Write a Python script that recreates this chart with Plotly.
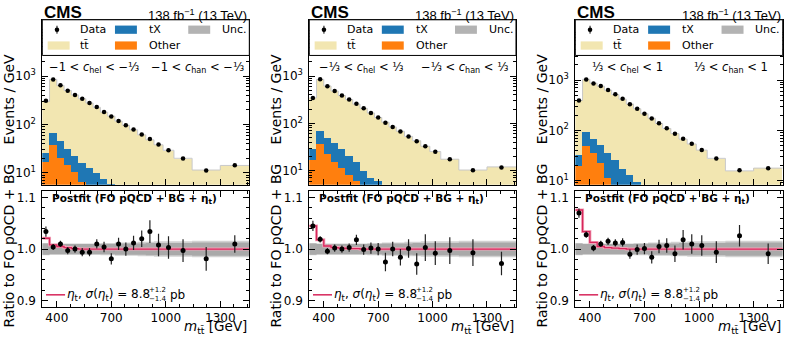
import numpy as np
import plotly.graph_objs as go
from plotly import subplots

# m_tt bin edges [GeV], same for all three (c_hel, c_han) regions
bin_edges = [320, 360, 400, 440, 480, 520, 560, 600, 640, 680, 720, 760, 800, 845, 890, 935, 985, 1045, 1145, 1300, 1460]

# region 1: -1 < c_hel < -1/3, -1 < c_han < -1/3   (events / GeV)
data_1 = [309, 855, 646, 501, 409, 339, 277, 229, 181, 146, 119, 97, 79, 62.5, 50, 38.5, 29.5, 20, 11.3, 14.4]
tt_1 = [274, 790, 597, 472, 386, 324, 266, 217, 172, 143, 113.5, 93.5, 75.3, 59.2, 46.8, 37, 28.5, 19.5, 11.2, 13.95]
tx_1 = [8.3, 28.6, 24.6, 17.5, 12, 10, 7.9, 6.5, 5.0, 4.0, 3.0, 2.3, 1.8, 1.4, 1.05, 0.75, 0.55, 0.35, 0.2, 0.23]
other_1 = [17.3, 38.9, 21, 14.5, 10.5, 6.6, 4.6, 3.5, 2.6, 2.0, 1.5, 1.2, 0.9, 0.7, 0.55, 0.45, 0.35, 0.25, 0.1, 0.12]
ratio_1 = [1.034, 1.004, 1.010, 0.997, 1.000, 0.994, 0.994, 1.010, 1.004, 0.981, 1.010, 1.000, 1.012, 1.020, 1.034, 1.008, 1.003, 0.997, 0.981, 1.010]
ratio_err_1 = [0.010, 0.006, 0.006, 0.007, 0.007, 0.008, 0.008, 0.009, 0.010, 0.011, 0.012, 0.013, 0.014, 0.016, 0.022, 0.022, 0.022, 0.022, 0.023, 0.017]
eta_ratio_1 = [1.021, 1.008, 1.005, 1.003, 1.001, 1.0, 1.0, 1.0, 1.0, 1.0, 1.0, 1.0, 1.0, 1.0, 1.0, 1.0, 1.0, 1.0, 1.0, 1.0]

# region 2: -1/3 < c_hel < 1/3, -1/3 < c_han < 1/3
data_2 = [345, 853, 611, 482, 386, 319, 259, 208, 166, 133, 103, 84, 67, 53, 41.8, 32.9, 25.1, 17.4, 10.2, 11.7]
tt_2 = [316.5, 784, 568, 443.5, 358.5, 297.3, 239.9, 198, 158.6, 126.8, 101, 80.4, 65.2, 50.8, 41.3, 31.5, 24.3, 16.75, 9.95, 11.6]
tx_2 = [11.6, 30.7, 26.5, 23.4, 17.2, 12.4, 9.1, 5.6, 3.3, 3.3, 2.4, 1.9, 1.5, 1.2, 0.9, 0.7, 0.55, 0.4, 0.2, 0.22]
other_2 = [16.9, 37.3, 22.5, 15.6, 11.3, 8.3, 6.0, 4.4, 3.8, 2.9, 2.2, 1.7, 1.3, 1.0, 0.8, 0.6, 0.45, 0.3, 0.15, 0.18]
ratio_2 = [1.045, 1.019, 0.996, 1.002, 1.000, 1.003, 1.018, 0.999, 1.002, 1.000, 0.975, 1.000, 0.984, 1.001, 0.971, 1.003, 0.992, 0.997, 0.993, 0.972]
ratio_err_2 = [0.010, 0.006, 0.006, 0.007, 0.007, 0.008, 0.010, 0.010, 0.011, 0.012, 0.018, 0.014, 0.016, 0.018, 0.021, 0.026, 0.023, 0.026, 0.026, 0.023]
eta_ratio_2 = [1.045, 1.018, 1.006, 1.003, 1.002, 1.001, 1.001, 1.0, 1.0, 1.0, 1.0, 1.0, 1.0, 1.0, 1.0, 1.0, 1.0, 1.0, 1.0, 1.0]

# region 3: 1/3 < c_hel < 1, 1/3 < c_han < 1
data_3 = [392, 1031, 859, 762, 636, 522, 423, 332, 269, 214, 171, 138, 110, 85, 68, 54, 40.7, 27.5, 16, 17.5]
tt_3 = [361.5, 943.5, 799, 707, 593.5, 491.5, 400.5, 322, 259.5, 207, 168.8, 133, 105.9, 83.6, 64.9, 52.1, 39.3, 26.95, 15.2, 17.25]
tx_3 = [12.8, 44.6, 34, 28.1, 23.4, 19, 12.7, 9.3, 6.8, 4.8, 3.7, 2.8, 2.2, 1.7, 1.35, 0.95, 0.75, 0.5, 0.28, 0.31]
other_3 = [19.7, 48.9, 35, 22.9, 11.6, 6.5, 4.8, 3.6, 2.7, 2.0, 1.5, 1.2, 0.9, 0.7, 0.55, 0.45, 0.35, 0.25, 0.12, 0.14]
ratio_3 = [1.070, 1.028, 1.002, 1.010, 1.015, 1.012, 1.013, 0.990, 0.999, 1.001, 0.984, 1.005, 1.007, 0.991, 1.018, 1.010, 1.007, 0.994, 1.026, 0.991]
ratio_err_3 = [0.009, 0.006, 0.006, 0.006, 0.007, 0.007, 0.008, 0.009, 0.010, 0.011, 0.012, 0.013, 0.014, 0.016, 0.019, 0.019, 0.020, 0.021, 0.021, 0.020]
eta_ratio_3 = [1.076, 1.034, 1.013, 1.005, 1.003, 1.002, 1.001, 1.0, 1.0, 1.0, 1.0, 1.0, 1.0, 1.0, 1.0, 1.0, 1.0, 1.0, 1.0, 1.0]

# relative uncertainty of the prediction (half width) in the ratio panels
unc_inner = [0.011, 0.010, 0.010, 0.010, 0.010, 0.010, 0.010, 0.010, 0.010, 0.010, 0.011, 0.011, 0.011, 0.011, 0.012, 0.012, 0.012, 0.012, 0.013, 0.013]
unc_outer = [0.012, 0.011, 0.011, 0.011, 0.011, 0.011, 0.011, 0.011, 0.012, 0.012, 0.013, 0.013, 0.013, 0.014, 0.014, 0.015, 0.015, 0.015, 0.016, 0.016]

region_labels = [
    ("−1 < <i>c</i><sub>hel</sub> < −⅓", "−1 < <i>c</i><sub>han</sub> < −⅓"),
    ("−⅓ < <i>c</i><sub>hel</sub> < ⅓", "−⅓ < <i>c</i><sub>han</sub> < ⅓"),
    ("⅓ < <i>c</i><sub>hel</sub> < 1", "⅓ < <i>c</i><sub>han</sub> < 1"),
]
y_log_ranges = [[0.755, 4.163], [0.70, 4.19], [0.915, 4.20]]
x_ticks = [400, 700, 1000, 1300]

TT_COLOR = "#f2e6b1"
TX_COLOR = "#1f77b4"
OTHER_COLOR = "#ff7f0e"
UNC_COLOR = "#b3b3b3"
ETA_COLOR = "#d7265b"
FONT = "DejaVu Sans"
FONT_CMS = "Liberation Sans"

panels = [
    dict(data = data_1, tt = tt_1, tx = tx_1, other = other_1, ratio = ratio_1, err = ratio_err_1, eta = eta_ratio_1),
    dict(data = data_2, tt = tt_2, tx = tx_2, other = other_2, ratio = ratio_2, err = ratio_err_2, eta = eta_ratio_2),
    dict(data = data_3, tt = tt_3, tx = tx_3, other = other_3, ratio = ratio_3, err = ratio_err_3, eta = eta_ratio_3),
]

centers = [(lo + hi) / 2 for lo, hi in zip(bin_edges[:-1], bin_edges[1:])]
widths = [hi - lo for lo, hi in zip(bin_edges[:-1], bin_edges[1:])]

x_domains = [[0.0534, 0.3148], [0.3905, 0.6515], [0.7264, 0.9883]]
top_domain = [0.4561, 0.9444]
ratio_domain = [0.0956, 0.4365]

fig = subplots.make_subplots(rows = 2, cols = 3)

def step(values):
    return list(values) + [values[-1]]

for index, panel in enumerate(panels):
    col = index + 1
    for values, color in [(panel["other"], OTHER_COLOR), (panel["tx"], TX_COLOR), (panel["tt"], TT_COLOR)]:
        fig.add_trace(
            go.Bar(
                x = centers, y = values, width = widths,
                marker = dict(color = color, line = dict(width = 0)),
                showlegend = False, hoverinfo = "skip"
            ),
            row = 1, col = col
        )
    total = np.array(panel["tt"]) + np.array(panel["tx"]) + np.array(panel["other"])
    fig.add_trace(
        go.Scatter(
            x = bin_edges, y = step(total), mode = "lines", line_shape = "hv",
            line = dict(color = "#c8c8c8", width = 1), showlegend = False
        ),
        row = 1, col = col
    )
    fig.add_trace(
        go.Scatter(
            x = centers, y = panel["data"], mode = "markers",
            marker = dict(color = "black", size = 4.5), showlegend = False
        ),
        row = 1, col = col
    )

    # ratio panel
    for band, color in [(unc_outer, "#d2d2d2"), (unc_inner, "#a9a9a9")]:
        fig.add_trace(
            go.Scatter(
                x = bin_edges, y = step([1 + u for u in band]), mode = "lines", line_shape = "hv",
                line = dict(width = 0), showlegend = False
            ),
            row = 2, col = col
        )
        fig.add_trace(
            go.Scatter(
                x = bin_edges, y = step([1 - u for u in band]), mode = "lines", line_shape = "hv",
                line = dict(width = 0), fill = "tonexty", fillcolor = color, showlegend = False
            ),
            row = 2, col = col
        )
    fig.add_trace(
        go.Scatter(
            x = bin_edges, y = step(panel["eta"]), mode = "lines", line_shape = "hv",
            line = dict(color = "#f2a3b8", width = 3), showlegend = False
        ),
        row = 2, col = col
    )
    fig.add_trace(
        go.Scatter(
            x = bin_edges, y = step(panel["eta"]), mode = "lines", line_shape = "hv",
            line = dict(color = ETA_COLOR, width = 1.3), showlegend = False
        ),
        row = 2, col = col
    )
    fig.add_trace(
        go.Scatter(
            x = centers, y = panel["ratio"], mode = "markers",
            error_y = dict(type = "data", array = panel["err"], color = "#222222", thickness = 1.2, width = 0),
            marker = dict(color = "black", size = 5), showlegend = False
        ),
        row = 2, col = col
    )

axis_style = dict(
    showline = True, linecolor = "black", linewidth = 1, mirror = "allticks",
    ticks = "inside", ticklen = 6, tickcolor = "black", showgrid = False, zeroline = False,
    tickfont = dict(family = FONT, size = 12, color = "black")
)
log_minor = [m * 10 ** k for k in range(0, 5) for m in range(2, 10)]

for index in range(3):
    col = index + 1
    fig.update_xaxes(
        domain = x_domains[index], range = [bin_edges[0], bin_edges[-1]],
        tickvals = x_ticks, showticklabels = False,
        minor = dict(ticks = "inside", ticklen = 3, dtick = 75, tick0 = 400, tickcolor = "black"),
        row = 1, col = col, **axis_style
    )
    fig.update_xaxes(
        domain = x_domains[index], range = [bin_edges[0], bin_edges[-1]],
        tickvals = x_ticks, ticktext = [str(t) for t in x_ticks],
        minor = dict(ticks = "inside", ticklen = 3, dtick = 75, tick0 = 400, tickcolor = "black"),
        row = 2, col = col, **axis_style
    )
    fig.update_yaxes(
        domain = top_domain, type = "log", range = y_log_ranges[index],
        tickvals = [10, 100, 1000], ticktext = ["10<sup>1</sup>", "10<sup>2</sup>", "10<sup>3</sup>"],
        minor = dict(ticks = "inside", ticklen = 3, tickvals = log_minor, tickcolor = "black"),
        ticklabelstandoff = 3,
        row = 1, col = col, **axis_style
    )
    fig.update_yaxes(
        domain = ratio_domain, range = [0.888, 1.112],
        tickvals = [0.9, 1.0, 1.1], ticktext = ["0.9", "1.0", "1.1"],
        minor = dict(ticks = "inside", ticklen = 3, dtick = 0.02, tick0 = 0.9, tickcolor = "black"),
        ticklabelstandoff = 3,
        row = 2, col = col, **axis_style
    )

shapes = list()
annotations = list()
legend_entries = [
    ("Data", 0.174, 0.940, None, None),
    ("tX", 0.506, 0.940, TX_COLOR, 0.351),
    ("Unc.", 0.858, 0.940, UNC_COLOR, 0.705),
    ("tt\u0304", 0.174, 0.844, TT_COLOR, 0.026),
    ("Other", 0.506, 0.844, OTHER_COLOR, 0.351),
]
for index in range(3):
    suffix = "" if index == 0 else str(index + 1)
    xr, yr = "x" + suffix + " domain", "y" + suffix + " domain"
    xr2, yr2 = "x" + str(index + 4) + " domain", "y" + str(index + 4) + " domain"

    # legend frame
    shapes.append(dict(type = "rect", xref = xr, yref = yr, x0 = 0, x1 = 1, y0 = 0.784, y1 = 1,
                       fillcolor = "white", line = dict(color = "black", width = 1)))
    for text, tx, ty, color, px in legend_entries:
        if color is not None:
            shapes.append(dict(type = "rect", xref = xr, yref = yr, x0 = px, x1 = px + 0.106,
                               y0 = ty - 0.025, y1 = ty + 0.025, fillcolor = color, line = dict(width = 0)))
        annotations.append(dict(text = text, xref = xr, yref = yr, x = tx, y = ty, xanchor = "left",
                                yanchor = "middle", showarrow = False,
                                font = dict(family = FONT, size = 11, color = "black")))
    shapes.append(dict(type = "line", xref = xr, yref = yr, x0 = 0.071, x1 = 0.071, y0 = 0.916, y1 = 0.964,
                       line = dict(color = "black", width = 1)))
    shapes.append(dict(type = "circle", xref = xr, yref = yr, x0 = 0.060, x1 = 0.082, y0 = 0.926, y1 = 0.954,
                       fillcolor = "black", line = dict(width = 0)))

    # CMS and luminosity labels
    annotations.append(dict(text = "<b>CMS</b>", xref = xr, yref = yr, x = 0, y = 0.972, xanchor = "left",
                            yanchor = "bottom", showarrow = False,
                            font = dict(family = FONT_CMS, size = 17, color = "black")))
    annotations.append(dict(text = "138 fb<sup>−1</sup> (13 TeV)", xref = xr, yref = yr, x = 1, y = 0.970,
                            xanchor = "right", yanchor = "bottom", showarrow = False,
                            font = dict(family = FONT_CMS, size = 13, color = "black")))

    # region labels
    for text, lx in zip(region_labels[index], [0.25, 0.75]):
        annotations.append(dict(text = text, xref = xr, yref = yr, x = lx, y = 0.713, xanchor = "center",
                                yanchor = "middle", showarrow = False,
                                font = dict(family = FONT, size = 11.5, color = "black")))

    # axis titles
    annotations.append(dict(text = "Events / GeV", xref = xr, yref = yr, x = -0.159, y = 0.52,
                            textangle = -90, xanchor = "center", yanchor = "middle", showarrow = False,
                            font = dict(family = FONT, size = 14, color = "black")))
    annotations.append(dict(text = "Ratio to FO pQCD + BG", xref = xr2, yref = yr2, x = -0.159, y = 0.534,
                            textangle = -90, xanchor = "center", yanchor = "middle", showarrow = False,
                            font = dict(family = FONT, size = 14, color = "black")))
    annotations.append(dict(text = "<i>m</i><sub>tt\u0304</sub> [GeV]", xref = xr2, yref = yr2, x = 1, y = -0.275,
                            xanchor = "right", yanchor = "bottom", showarrow = False,
                            font = dict(family = FONT, size = 13.5, color = "black")))

    # ratio panel texts
    annotations.append(dict(text = "<b>Postfit (FO pQCD + BG + η<sub>t</sub>)</b>", xref = xr2, yref = yr2,
                            x = 0.037, y = 0.931, xanchor = "left", yanchor = "middle", showarrow = False,
                            font = dict(family = FONT, size = 10.5, color = "black")))
    shapes.append(dict(type = "line", xref = xr2, yref = yr2, x0 = 0.018, x1 = 0.110, y0 = 0.103, y1 = 0.103,
                       line = dict(color = ETA_COLOR, width = 1.5)))
    annotations.append(dict(text = "<i>η</i><sub>t</sub>, <i>σ</i>(<i>η</i><sub>t</sub>) = 8.8", xref = xr2,
                            yref = yr2, x = 0.530, y = 0.103, xanchor = "right", yanchor = "middle",
                            showarrow = False, font = dict(family = FONT, size = 12, color = "black")))
    annotations.append(dict(text = "+1.2", xref = xr2, yref = yr2, x = 0.508, y = 0.142, xanchor = "left",
                            yanchor = "middle", showarrow = False,
                            font = dict(family = FONT, size = 7, color = "black")))
    annotations.append(dict(text = "−1.4", xref = xr2, yref = yr2, x = 0.508, y = 0.066, xanchor = "left",
                            yanchor = "middle", showarrow = False,
                            font = dict(family = FONT, size = 7, color = "black")))
    annotations.append(dict(text = "pb", xref = xr2, yref = yr2, x = 0.606, y = 0.103, xanchor = "left",
                            yanchor = "middle", showarrow = False,
                            font = dict(family = FONT, size = 12, color = "black")))

fig.update_layout(
    width = 792, height = 342, autosize = False,
    margin = dict(l = 0, r = 0, t = 0, b = 0),
    paper_bgcolor = "white", plot_bgcolor = "white",
    barmode = "stack", bargap = 0,
    showlegend = False,
    shapes = shapes, annotations = annotations,
    font = dict(family = FONT, color = "black")
)

fig.write_html(
    "out.html",
    config = {"displayModeBar": False},
    post_script = "document.body.style.margin = '0px';"
)
